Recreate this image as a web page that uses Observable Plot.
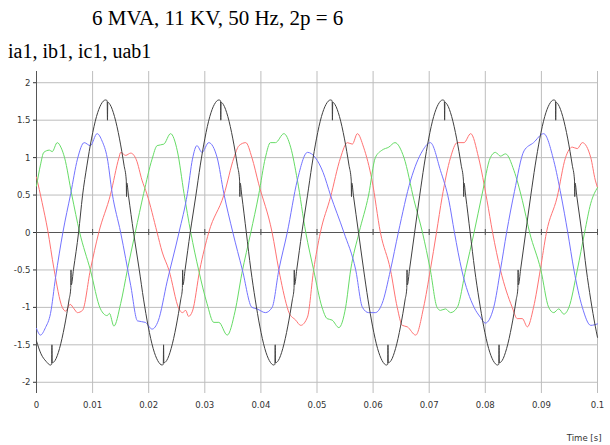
<!DOCTYPE html>
<html><head><meta charset="utf-8">
<script src="https://cdn.jsdelivr.net/npm/d3@7"></script>
<script src="https://cdn.jsdelivr.net/npm/@observablehq/plot@0.6"></script>
<style>
html,body{margin:0;padding:0;background:#fff}
body{width:610px;height:445px;overflow:hidden;position:relative}
.t{position:absolute;font-family:"Liberation Serif","Times New Roman",serif;white-space:nowrap;color:#000}
#title{left:92px;top:8px;font-size:21px;line-height:21px}
#sub{left:8px;top:41px;font-size:20px;line-height:20px}
#chart{position:absolute;left:0;top:65px}
</style></head><body>
<div class="t" id="title">6 MVA, 11 KV, 50 Hz, 2p = 6</div>
<div class="t" id="sub">ia1, ib1, ic1, uab1</div>
<div id="chart"></div>
<script>
const xTicks = [0,0.01,0.02,0.03,0.04,0.05,0.06,0.07,0.08,0.09,0.1];
const yTicks = [-2,-1.5,-1,-0.5,0,0.5,1,1.5,2];
const seriesNames = ["ia1","ib1","ic1","uab1"];
const seriesColors = ["#ff7373","#66dc66","#7373ff","#404040"];

// ia1 (red): [time s, value]
const ia1 = [[0,0.74],[0.001,0.4],[0.002,0.03],[0.0031,-0.48],[0.0046,-1.0],[0.0052,-1.05],[0.006,-0.96],[0.0067,-1.02],[0.0073,-1.07],[0.0082,-1.04],[0.0096,-0.5],[0.0111,0],[0.0132,0.51],[0.0147,1.0],[0.015,1.07],[0.0159,1.03],[0.0168,1.06],[0.0178,0.97],[0.0188,0.7],[0.0197,0.51],[0.0215,0],[0.0224,-0.26],[0.0236,-0.5],[0.0254,-1.02],[0.026,-1.07],[0.0266,-1.04],[0.0271,-1.12],[0.0278,-1.05],[0.0291,-0.5],[0.0307,0],[0.0334,0.5],[0.0352,1.0],[0.0361,1.16],[0.0373,1.2],[0.0384,1.0],[0.0396,0.65],[0.042,0],[0.0432,-0.5],[0.0447,-1.0],[0.045,-1.07],[0.0462,-1.17],[0.0471,-1.24],[0.0483,-1.13],[0.0494,-0.5],[0.0506,0],[0.0524,0.47],[0.0542,1.0],[0.0554,1.2],[0.0563,1.18],[0.0572,1.32],[0.0583,1.14],[0.0598,0.7],[0.0613,0],[0.0631,-0.5],[0.0643,-1.0],[0.0652,-1.24],[0.0661,-1.26],[0.0676,-1.37],[0.069,-1.0],[0.0702,-0.5],[0.0713,0],[0.0723,0.47],[0.0738,1.0],[0.075,1.2],[0.0762,1.2],[0.0774,1.32],[0.0788,1.0],[0.0803,0.43],[0.0813,0],[0.0827,-0.5],[0.0848,-1.0],[0.0857,-1.15],[0.0866,-1.15],[0.0875,-1.26],[0.0886,-1.0],[0.0898,-0.5],[0.0909,0],[0.0928,0.47],[0.0943,1.0],[0.0955,1.14],[0.0964,1.12],[0.0973,1.2],[0.0988,1.0],[0.0996,0.7],[0.1,0.6]];

// ib1 (green)
const ib1 = [[0,0.62],[0.0007,0.9],[0.0013,1.07],[0.0023,1.1],[0.0028,1.08],[0.0037,1.2],[0.0044,1.13],[0.005,1.0],[0.0063,0.5],[0.0077,0],[0.0096,-0.5],[0.0114,-1.02],[0.0126,-1.11],[0.013,-1.08],[0.0138,-1.25],[0.015,-0.95],[0.0162,-0.5],[0.0176,0],[0.0191,0.52],[0.0206,0.98],[0.0215,1.16],[0.0227,1.18],[0.0239,1.32],[0.0251,1.09],[0.0263,0.52],[0.0275,0],[0.0289,-0.5],[0.0304,-0.95],[0.0316,-1.2],[0.0325,-1.2],[0.034,-1.37],[0.0354,-1.05],[0.0366,-0.55],[0.0382,0],[0.0396,0.5],[0.0408,1.0],[0.0417,1.2],[0.0426,1.2],[0.0441,1.32],[0.0453,1.14],[0.0465,0.7],[0.048,0],[0.0494,-0.5],[0.0509,-1.0],[0.0518,-1.15],[0.0527,-1.17],[0.0539,-1.27],[0.0551,-1.0],[0.056,-0.5],[0.0575,0],[0.0592,0.5],[0.0604,1.0],[0.0616,1.1],[0.0628,1.14],[0.0639,1.2],[0.0655,1.0],[0.0673,0.43],[0.0688,0],[0.0702,-0.5],[0.0714,-1.0],[0.072,-1.04],[0.0729,-1.02],[0.0738,-1.07],[0.075,-1.0],[0.0765,-0.5],[0.078,0],[0.0794,0.5],[0.0809,1.0],[0.0818,1.07],[0.0827,1.02],[0.0836,1.05],[0.0851,0.83],[0.0866,0.43],[0.0879,0],[0.0899,-0.5],[0.0913,-1.0],[0.0922,-1.07],[0.0931,-1.02],[0.094,-1.09],[0.0949,-1.0],[0.0964,-0.5],[0.0977,0],[0.0988,0.39],[0.1,0.6]];

// ic1 (blue)
const ic1 = [[0,-1.28],[0.0007,-1.37],[0.0016,-1.27],[0.0025,-1.08],[0.0034,-0.6],[0.0047,0],[0.0061,0.52],[0.0073,0.98],[0.0085,1.2],[0.0096,1.16],[0.0108,1.32],[0.0117,1.22],[0.0126,1.0],[0.0135,0.52],[0.015,0],[0.0168,-0.71],[0.018,-1.18],[0.0194,-1.2],[0.0206,-1.29],[0.0217,-1.18],[0.0233,-0.65],[0.0254,0],[0.0269,0.52],[0.0278,0.98],[0.0286,1.16],[0.0295,1.07],[0.0307,1.2],[0.0322,1.0],[0.0334,0.52],[0.035,0],[0.0367,-0.5],[0.0384,-1.0],[0.0393,-1.02],[0.0408,-1.07],[0.042,-1.0],[0.0432,-0.5],[0.0447,0],[0.0465,0.7],[0.0483,1.07],[0.0497,1.0],[0.0511,0.8],[0.0524,0.5],[0.0548,0],[0.0569,-0.5],[0.0581,-1.0],[0.0592,-1.07],[0.0604,-1.07],[0.0616,-0.95],[0.0631,-0.5],[0.0645,0],[0.0667,0.7],[0.0688,1.09],[0.0702,1.2],[0.072,0.83],[0.0735,0.43],[0.0745,0],[0.0758,-0.5],[0.078,-1.0],[0.0791,-1.13],[0.08,-1.21],[0.0815,-1.0],[0.0827,-0.5],[0.0838,0],[0.0852,0.55],[0.0869,1.09],[0.0886,1.2],[0.0904,1.32],[0.0922,0.96],[0.0935,0.5],[0.0947,0],[0.0958,-0.5],[0.0973,-1.0],[0.0988,-1.24],[0.1,-1.22]];

// uab1 (black)
const uab1 = [[0,-1.45],[0.0008,-1.62],[0.0017,-1.72],[0.0025,-1.77],[0.0027,-1.76],[0.00275,-1.5],[0.0028,-1.74],[0.0033,-1.71],[0.0041,-1.55],[0.005,-1.25],[0.0058,-0.9],[0.0061,-0.75],[0.00615,-0.5],[0.0062,-0.7],[0.0066,-0.49],[0.0075,0],[0.0082,0.49],[0.009,0.9],[0.0098,1.25],[0.0107,1.55],[0.0115,1.71],[0.0123,1.77],[0.0126,1.76],[0.01265,1.5],[0.0127,1.74],[0.0131,1.71],[0.0139,1.55],[0.0148,1.25],[0.0156,0.9],[0.016,0.7],[0.01605,0.48],[0.0161,0.66],[0.0164,0.49],[0.0173,0],[0.0183,-0.49],[0.0191,-0.9],[0.0199,-1.25],[0.0208,-1.55],[0.0216,-1.71],[0.0224,-1.77],[0.0226,-1.76],[0.02265,-1.5],[0.0227,-1.74],[0.0232,-1.71],[0.024,-1.55],[0.0249,-1.25],[0.0257,-0.9],[0.026,-0.75],[0.02605,-0.5],[0.0261,-0.7],[0.0265,-0.49],[0.0274,0],[0.0284,0.49],[0.0292,0.9],[0.03,1.25],[0.0309,1.55],[0.0317,1.71],[0.0325,1.77],[0.0328,1.76],[0.03285,1.5],[0.0329,1.74],[0.0333,1.71],[0.0341,1.55],[0.035,1.25],[0.0358,0.9],[0.0362,0.7],[0.03625,0.48],[0.0363,0.66],[0.0366,0.49],[0.0374,0],[0.0382,-0.49],[0.039,-0.9],[0.0398,-1.25],[0.0407,-1.55],[0.0415,-1.71],[0.0423,-1.77],[0.0425,-1.76],[0.04255,-1.5],[0.0426,-1.74],[0.0431,-1.71],[0.0439,-1.55],[0.0448,-1.25],[0.0456,-0.9],[0.0459,-0.75],[0.04595,-0.5],[0.046,-0.7],[0.0464,-0.49],[0.0473,0],[0.0483,0.49],[0.0491,0.9],[0.0499,1.25],[0.0508,1.55],[0.0516,1.71],[0.0524,1.77],[0.0527,1.76],[0.05275,1.5],[0.0528,1.74],[0.0532,1.71],[0.054,1.55],[0.0549,1.25],[0.0557,0.9],[0.0561,0.7],[0.05615,0.48],[0.0562,0.66],[0.0565,0.49],[0.0574,0],[0.0583,-0.49],[0.0591,-0.9],[0.0599,-1.25],[0.0608,-1.55],[0.0616,-1.71],[0.0624,-1.77],[0.0626,-1.76],[0.06265,-1.5],[0.0627,-1.74],[0.0632,-1.71],[0.064,-1.55],[0.0649,-1.25],[0.0657,-0.9],[0.066,-0.75],[0.06605,-0.5],[0.0661,-0.7],[0.0665,-0.49],[0.0674,0],[0.0683,0.49],[0.0691,0.9],[0.0699,1.25],[0.0708,1.55],[0.0716,1.71],[0.0724,1.77],[0.0727,1.76],[0.07275,1.5],[0.0728,1.74],[0.0732,1.71],[0.074,1.55],[0.0749,1.25],[0.0757,0.9],[0.0761,0.7],[0.07615,0.48],[0.0762,0.66],[0.0765,0.49],[0.0773,0],[0.0781,-0.49],[0.0789,-0.9],[0.0797,-1.25],[0.0806,-1.55],[0.0814,-1.71],[0.0822,-1.77],[0.0824,-1.76],[0.08245,-1.5],[0.0825,-1.74],[0.083,-1.71],[0.0838,-1.55],[0.0847,-1.25],[0.0855,-0.9],[0.0858,-0.75],[0.08585,-0.5],[0.0859,-0.7],[0.0863,-0.49],[0.0872,0],[0.0881,0.49],[0.0889,0.9],[0.0897,1.25],[0.0906,1.55],[0.0914,1.71],[0.0922,1.77],[0.0925,1.76],[0.09255,1.5],[0.0926,1.74],[0.093,1.71],[0.0938,1.55],[0.0947,1.25],[0.0955,0.9],[0.0959,0.7],[0.09595,0.48],[0.096,0.66],[0.0963,0.49],[0.0972,0],[0.098,-0.49],[0.0988,-0.9],[0.0996,-1.25],[0.1,-1.4]];

const seriesData = [ia1, ib1, ic1, uab1];
const rows = seriesNames.flatMap((name, i) => seriesData[i].map(([t, v]) => ({series: name, t, v})));

const fmt = d => String(+d.toFixed(3));
const tickFont = '"Liberation Sans Narrow","DejaVu Sans Condensed","Liberation Sans",sans-serif';

const chart = Plot.plot({
  width: 610,
  height: 380,
  marginLeft: 36,
  marginRight: 13,
  marginTop: 6,
  marginBottom: 52,
  style: {fontFamily: tickFont, fontSize: "9.5px", color: "#333", background: "#fff", overflow: "visible"},
  x: {domain: [0, 0.1]},
  y: {domain: [-2.15, 2.15]},
  color: {domain: seriesNames, range: seriesColors},
  marks: [
    Plot.gridX(xTicks, {stroke: "#bdbdbd", strokeOpacity: 1}),
    Plot.gridY(yTicks, {stroke: "#bdbdbd", strokeOpacity: 1}),
    Plot.ruleY([0], {stroke: "#555"}),
    Plot.ruleX([0], {stroke: "#555"}),
    Plot.ruleX(xTicks, {x: d => d, y1: -0.04, y2: 0.04, stroke: "#555"}),
    Plot.line(rows, {x: "t", y: "v", z: "series", stroke: "series", strokeWidth: 1, curve: "monotone-x"}),
    Plot.axisY(yTicks, {tickSize: 3, tickPadding: 3, tickFormat: fmt, label: null}),
    Plot.axisX(xTicks, {tickSize: 0, tickPadding: 8, tickFormat: fmt, label: null}),
    Plot.text(["Time [s]"], {frameAnchor: "bottom-right", dx: 4, dy: 47, textAnchor: "end", fontSize: 9.5})
  ]
});
document.getElementById("chart").appendChild(chart);
</script>
</body></html>
